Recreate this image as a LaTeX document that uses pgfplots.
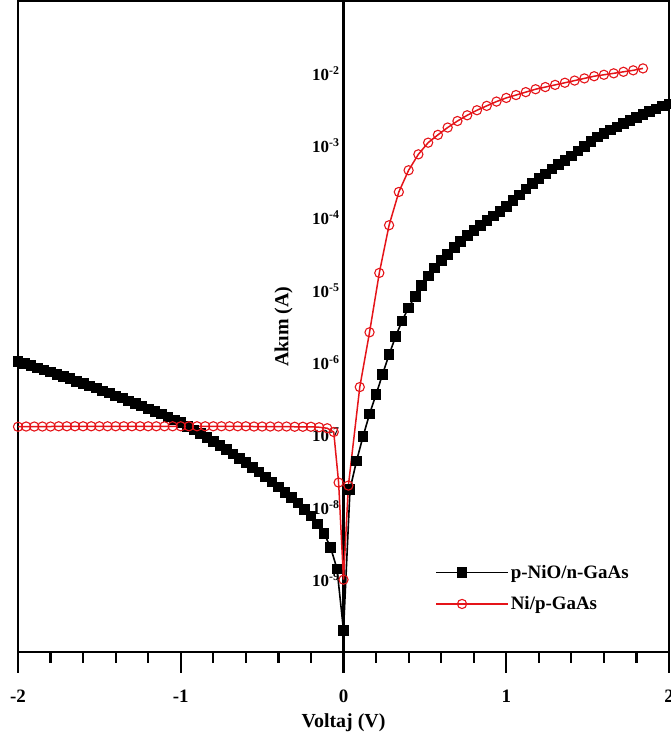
\documentclass[border=0pt]{standalone}
\usepackage{fontspec}
\setmainfont{Liberation Serif}
\usepackage{pgfplots}
\pgfplotsset{compat=1.18}
\definecolor{myred}{rgb}{0.9,0.08,0.1}
\begin{document}
\begin{tikzpicture}
\begin{axis}[
  name=ax,
  scale only axis,
  width=651bp, height=651bp,
  xmin=-2, xmax=2,
  ymode=log, log basis y=10,
  ymin=1e-10, ymax=1e-1,
  axis line style={line width=2.2bp},
  xtick={-2,-1,0,1,2},
  xticklabels={-2,-1,0,1,2},
  xminorticks=false,
  xtick pos=bottom,
  xtick style={draw=none},
  major tick length=0bp,
  ytick={1e-9,1e-8,1e-7,1e-6,1e-5,1e-4,1e-3,1e-2},
  yticklabels={10\textsuperscript{-9},10\textsuperscript{-8},10\textsuperscript{-7},10\textsuperscript{-6},10\textsuperscript{-5},10\textsuperscript{-4},10\textsuperscript{-3},10\textsuperscript{-2}},
  ytick style={draw=none},
  yminorticks=false,
  xticklabel style={anchor=center, font=\bfseries\fontsize{19}{19}\selectfont, yshift=-44bp},
  yticklabel style={anchor=east, xshift=325bp, font=\bfseries\fontsize{17}{17}\selectfont},
  xlabel={Voltaj (V)},
  ylabel={Akım (A)},
  xlabel style={at={(axis description cs:0.5,-0.109)}, anchor=center, font=\bfseries\fontsize{20}{20}\selectfont},
  ylabel style={at={(axis description cs:0.408,0.5)}, anchor=center, font=\bfseries\fontsize{20}{20}\selectfont},
  legend style={draw=none, fill=none, at={(axis description cs:0.636,0.14)}, anchor=north west,
    font=\bfseries\fontsize{19}{19}\selectfont, row sep=13bp},
  legend cell align=left,
  legend image code/.code={\path (0bp,0bp) -- (72bp,0bp);\draw[mark repeat=2,mark phase=2,#1] plot coordinates {(0bp,0bp) (26bp,0bp) (52bp,0bp)};},
]
\draw[line width=2.2bp] (axis cs:0,1e-10) -- (axis cs:0,1e-1);
\addplot[black, line width=1.6bp, mark=square*, mark size=4.8bp, mark options={fill=black, line width=0.8bp}] coordinates {
(-2.00,1.05e-6) (-1.96,9.77e-7) (-1.92,9.12e-7) (-1.88,8.51e-7) (-1.84,7.94e-7)
(-1.80,7.41e-7) (-1.76,6.92e-7) (-1.72,6.46e-7) (-1.68,6.03e-7) (-1.64,5.50e-7)
(-1.60,5.13e-7) (-1.56,4.79e-7) (-1.52,4.47e-7) (-1.48,4.07e-7) (-1.44,3.80e-7)
(-1.40,3.47e-7) (-1.36,3.24e-7) (-1.32,2.95e-7) (-1.28,2.75e-7) (-1.24,2.51e-7)
(-1.20,2.29e-7) (-1.16,2.14e-7) (-1.12,1.95e-7) (-1.08,1.78e-7) (-1.04,1.62e-7)
(-1.00,1.48e-7) (-0.96,1.32e-7) (-0.92,1.17e-7) (-0.88,1.05e-7) (-0.84,9.33e-8)
(-0.80,8.13e-8) (-0.76,7.24e-8) (-0.72,6.31e-8) (-0.68,5.50e-8) (-0.64,4.79e-8)
(-0.60,4.17e-8) (-0.56,3.55e-8) (-0.52,3.09e-8) (-0.48,2.63e-8) (-0.44,2.24e-8)
(-0.40,1.91e-8) (-0.36,1.62e-8) (-0.32,1.38e-8) (-0.28,1.15e-8) (-0.24,9.33e-9)
(-0.20,7.59e-9) (-0.16,5.89e-9) (-0.12,4.37e-9) (-0.08,2.82e-9) (-0.04,1.41e-9)
(0.00,2.00e-10)
(0.04,1.78e-8) (0.08,4.37e-8) (0.12,9.55e-8) (0.16,1.95e-7) (0.20,3.63e-7)
(0.24,6.92e-7) (0.28,1.29e-6) (0.32,2.29e-6) (0.36,3.80e-6) (0.40,5.75e-6)
(0.44,8.32e-6) (0.48,1.17e-5) (0.52,1.58e-5) (0.56,2.04e-5) (0.60,2.57e-5)
(0.64,3.16e-5) (0.68,3.89e-5) (0.72,4.79e-5) (0.76,5.75e-5) (0.80,6.76e-5)
(0.84,7.94e-5) (0.88,9.33e-5) (0.92,1.07e-4) (0.96,1.23e-4) (1.00,1.45e-4)
(1.04,1.74e-4) (1.08,2.09e-4) (1.12,2.51e-4) (1.16,3.02e-4) (1.20,3.55e-4)
(1.24,4.07e-4) (1.28,4.79e-4) (1.32,5.50e-4) (1.36,6.31e-4) (1.40,7.24e-4)
(1.44,8.51e-4) (1.48,9.77e-4) (1.52,1.15e-3) (1.56,1.32e-3) (1.60,1.48e-3)
(1.64,1.66e-3) (1.68,1.82e-3) (1.72,2.04e-3) (1.76,2.24e-3) (1.80,2.45e-3)
(1.84,2.69e-3) (1.88,2.95e-3) (1.92,3.24e-3) (1.96,3.55e-3) (2.00,3.80e-3)
};
\addlegendentry{p-NiO/n-GaAs}
\addplot[myred, line width=1.5bp, mark=o, mark size=4.6bp, mark options={line width=1.1bp}] coordinates {
(-2.00,1.30e-7) (-1.95,1.31e-7) (-1.90,1.31e-7) (-1.85,1.31e-7) (-1.80,1.31e-7)
(-1.75,1.32e-7) (-1.70,1.32e-7) (-1.65,1.32e-7) (-1.60,1.32e-7) (-1.55,1.32e-7)
(-1.50,1.32e-7) (-1.45,1.32e-7) (-1.40,1.32e-7) (-1.35,1.32e-7) (-1.30,1.32e-7)
(-1.25,1.32e-7) (-1.20,1.32e-7) (-1.15,1.32e-7) (-1.10,1.32e-7) (-1.05,1.32e-7)
(-1.00,1.32e-7) (-0.95,1.32e-7) (-0.90,1.32e-7) (-0.85,1.32e-7) (-0.80,1.32e-7)
(-0.75,1.32e-7) (-0.70,1.32e-7) (-0.65,1.32e-7) (-0.60,1.32e-7) (-0.55,1.31e-7)
(-0.50,1.31e-7) (-0.45,1.31e-7) (-0.40,1.31e-7) (-0.35,1.31e-7) (-0.30,1.30e-7)
(-0.25,1.30e-7) (-0.20,1.30e-7) (-0.15,1.28e-7) (-0.10,1.24e-7) (-0.06,1.10e-7)
(-0.03,2.20e-8) (0.00,1.00e-9) (0.03,2.00e-8)
(0.10,4.60e-7) (0.16,2.63e-6) (0.22,1.74e-5) (0.28,7.94e-5)
(0.34,2.29e-4) (0.40,4.57e-4) (0.46,7.59e-4) (0.52,1.10e-3) (0.58,1.41e-3)
(0.64,1.78e-3) (0.70,2.19e-3) (0.76,2.63e-3) (0.82,3.09e-3) (0.88,3.55e-3)
(0.94,4.07e-3) (1.00,4.57e-3) (1.06,5.01e-3) (1.12,5.50e-3) (1.18,6.03e-3)
(1.24,6.46e-3) (1.30,6.92e-3) (1.36,7.41e-3) (1.42,7.94e-3) (1.48,8.51e-3)
(1.54,9.12e-3) (1.60,9.55e-3) (1.66,1.00e-2) (1.72,1.05e-2) (1.78,1.10e-2)
(1.84,1.17e-2)
};
\addlegendentry{Ni/p-GaAs}
\end{axis}
\foreach \i in {0,...,20}{
  \pgfmathsetmacro{\len}{ifthenelse(mod(\i,5)==0,21,11)}
  \draw[line width=2.2bp] ([xshift=\i*32.55bp]ax.south west) -- ++(0,-\len bp);
}
\pgfresetboundingbox
\path[use as bounding box] ([shift={(-18bp,-86bp)}]ax.south west) rectangle ([shift={(1bp,1bp)}]ax.north east);
\end{tikzpicture}
\end{document}
